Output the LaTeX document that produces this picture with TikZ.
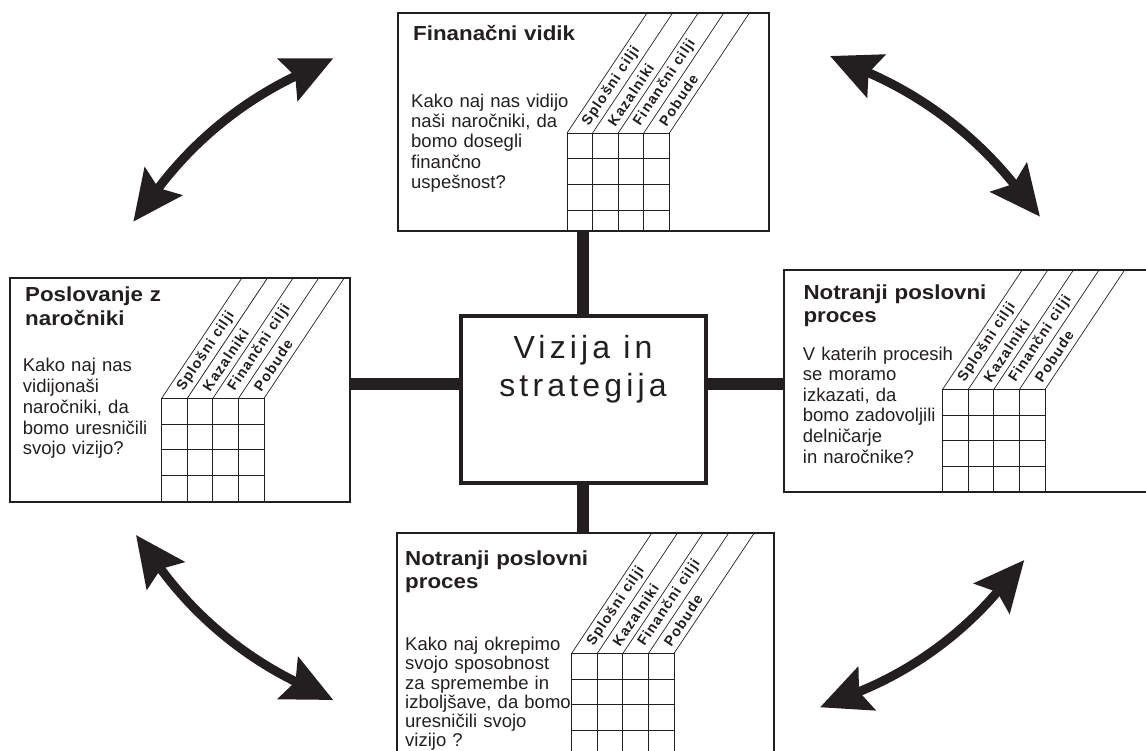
\documentclass[tikz,border=0pt]{standalone}
\usepackage{fontspec}
\setmainfont{Liberation Sans}
\newfontfamily\stripfont[LetterSpace=8]{Liberation Sans}
\newfontfamily\titlefont[FakeStretch=1.1]{Liberation Sans}
\newfontfamily\visionfont[LetterSpace=13]{Liberation Sans}
\usetikzlibrary{arrows.meta}
\definecolor{ink}{RGB}{35,31,32}

\tikzset{
  panel/.style={draw=ink, line width=2.8pt, inner sep=0pt, rectangle},
  hubbox/.style={draw=ink, line width=3.6pt, inner sep=0pt, rectangle},
  link/.style={draw=ink, line width=12pt},
  cell/.style={draw=ink, line width=0.9pt},
  slant/.style={draw=ink, line width=0.7pt},
  lbl/.style={font=\stripfont\bfseries\fontsize{14.3}{16}\selectfont, inner sep=0pt,
              anchor=west, rotate=56.3, text=ink},
  body/.style={font={\fontsize{18.5}{20.5}\selectfont\lineskiplimit=-50pt},
               text width=230pt, align=left, inner sep=0pt, anchor=base west, text=ink},
  heading/.style={font={\titlefont\bfseries\fontsize{20.3}{23.5}\selectfont\lineskiplimit=-50pt},
               text width=230pt, align=left, inner sep=0pt, anchor=base west, text=ink},
  twoway/.style={draw=ink, line width=9pt,
    {Stealth[length=50pt,width=46pt,inset=8pt]}-{Stealth[length=50pt,width=46pt,inset=8pt]}},
}

% grid of four columns with slanted header strips
% #1 name, #2 grid left x, #3 grid top y, #4 panel top y, #5 panel bottom y
\newcommand\scorecard[5]{%
  \foreach \i in {0,...,4}{%
    \draw[cell] (#2+\i*25.6, #3) -- (#2+\i*25.6, #5);
    \draw[slant] (#2+\i*25.6, #3) -- ({#2+\i*25.6+(#3-#4)/1.5}, #4);
  }%
  \foreach \j in {0,...,3}{%
    \draw[cell] (#2, #3+\j*25.7) -- (#2+102.4, #3+\j*25.7);
  }%
  \foreach \i/\t in {0/Splošni cilji,1/Kazalniki,2/Finančni cilji,3/Pobude}{%
    \node[lbl] (#1-\i) at (#2+\i*25.6+18.5, #3-8.5) {\t};
  }%
}

\begin{document}
\begin{tikzpicture}[x=1pt, y=-1pt]
\useasboundingbox (0,0) rectangle (1146,751);

% panels
\node[panel, minimum width=371pt, minimum height=218pt] (tbox) at (583.5,122) {};
\node[panel, minimum width=340pt, minimum height=224pt] (lbox) at (180,390) {};
\node[panel, minimum width=370pt, minimum height=222pt] (rbox) at (969,381) {};
\node[panel, minimum width=377pt, minimum height=224pt] (bbox) at (585.5,645) {};
\node[hubbox, minimum width=245pt, minimum height=167pt] (cbox) at (583.2,399.3) {};

% thick connectors to the hub
\coordinate (hub) at (0,384);
\draw[link] (cbox.north) -- (cbox.north |- tbox.south);
\draw[link] (cbox.south) -- (cbox.south |- bbox.north);
\draw[link] (cbox.west |- hub) -- (lbox.east |- hub);
\draw[link] (cbox.east |- hub) -- (rbox.west |- hub);

% hub text (base anchor sits on the last line)
\node[font=\visionfont\fontsize{32}{38.6}\selectfont, align=center, inner sep=0pt,
      anchor=base, text=ink] (vision) at (583,396.7) {Vizija in\\strategija};

% top panel
\node[heading] (ttitle) at (413,40.5) {Finanačni vidik};
\node[body, font={\fontsize{18.5}{20.2}\selectfont\lineskiplimit=-50pt}] (tq) at (411,107.5)
  {Kako naj nas vidijo\\naši naročniki, da\\bomo dosegli\\finančno\\uspešnost?};
\scorecard{tg}{567}{133}{13}{231}

% left panel
\node[heading] (ltitle) at (25,301.7) {Poslovanje z\\naročniki};
\node[body, font={\fontsize{18.5}{20.8}\selectfont\lineskiplimit=-50pt}] (lq) at (22.7,371.7)
  {Kako naj nas\\vidijonaši\\naročniki, da\\bomo uresničili\\svojo vizijo?};
\scorecard{lg}{161.7}{398.3}{278}{502}

% right panel
\node[heading] (rtitle) at (803.3,299.3) {Notranji poslovni\\proces};
\node[body, font={\fontsize{18.5}{20.66}\selectfont\lineskiplimit=-50pt}] (rq) at (802.7,360)
  {V katerih procesih\\se moramo\\izkazati, da\\bomo zadovoljili\\delničarje\\in naročnike?};
\scorecard{rg}{942.7}{389.3}{270}{492}

% bottom panel
\node[heading] (btitle) at (405,565) {Notranji poslovni\\proces};
\node[body, font={\fontsize{18.5}{19.2}\selectfont\lineskiplimit=-50pt}] (bq) at (405,650.7)
  {Kako naj okrepimo\\svojo sposobnost\\za spremembe in\\izboljšave, da bomo\\uresničili svojo\\vizijo ?};
\scorecard{bg}{571.7}{653.3}{533}{760}

% curved two-way arrows between neighbouring panels
\coordinate (tl1) at (133.3,221.7);
\coordinate (tl2) at (333.3,58.3);
\coordinate (tr1) at (830,56);
\coordinate (tr2) at (1040,216.7);
\coordinate (bl1) at (136,535);
\coordinate (bl2) at (333.3,700);
\coordinate (br1) at (820,707.3);
\coordinate (br2) at (1024.3,560);
\draw[twoway] (tl1) to[bend left=14] (tl2);
\draw[twoway] (tr1) to[bend left=14] (tr2);
\draw[twoway] (bl1) to[bend right=14] (bl2);
\draw[twoway] (br1) to[bend right=14] (br2);
\end{tikzpicture}
\end{document}
